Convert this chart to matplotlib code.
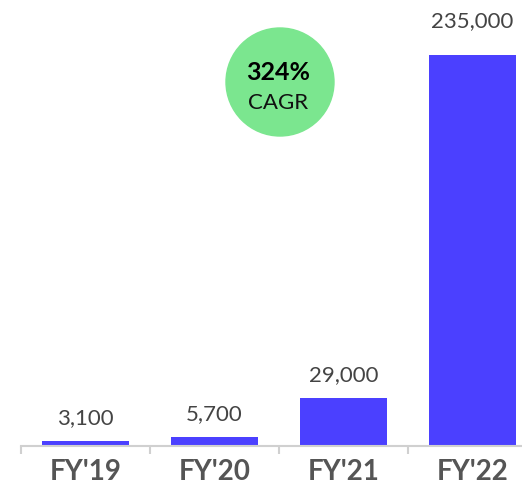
import matplotlib
matplotlib.use('Agg')
import matplotlib.pyplot as plt
from matplotlib.patches import Ellipse

years = ["FY'19", "FY'20", "FY'21", "FY'22"]
values = [3100, 5700, 29000, 235000]
labels = ['3,100', '5,700', '29,000', '235,000']
cagr = '324%'

W, H = 522, 484
fig = plt.figure(figsize=(W / 100, H / 100), dpi=100)
plt.rcParams['font.family'] = ['Lato', 'DejaVu Sans']

# axes baseline at y=446px, tallest bar top at y=55px
ax = fig.add_axes([21 / W, (H - 446) / H, 516 / W, 391 / H])
x = range(len(years))
ax.bar(x, values, width=0.67, color='#4B40FF', zorder=2)
ax.set_xlim(-0.5, 3.5)
ax.set_ylim(0, 235000)

for xi, v, lab in zip(x, values, labels):
    off = 20 if v == max(values) else 12  # top label sits a bit higher
    ax.annotate(lab, (xi, v), xytext=(0, off), textcoords='offset points',
                ha='center', va='baseline', fontsize=16, color='#444444')

for s in ['top', 'right', 'left']:
    ax.spines[s].set_visible(False)
ax.spines['bottom'].set_color('#d0d0d0')
ax.spines['bottom'].set_linewidth(1.5)
ax.set_yticks([])
ax.set_xticks([-0.5, 0.5, 1.5, 2.5, 3.5])
ax.set_xticklabels([])
ax.tick_params(axis='x', length=6, width=1.5, color='#d0d0d0')
ax.set_xticks(list(x), minor=True)
ax.set_xticklabels(years, minor=True, fontsize=20, fontweight='bold', color='#555555')
ax.tick_params(axis='x', which='minor', length=0, pad=9)

# CAGR bubble
cx, cy, r = 280, 82, 54
fig.add_artist(Ellipse((cx / W, 1 - cy / H), 2 * r / W, 2 * r / H,
                       transform=fig.transFigure, color='#7BE68F', zorder=3))
fig.text(278 / W, 1 - 80 / H, cagr, ha='center', va='baseline', fontsize=18,
         fontweight='bold', color='black', zorder=4)
fig.text(278 / W, 1 - 109 / H, 'CAGR', ha='center', va='baseline', fontsize=16,
         color='#111111', zorder=4)

fig.savefig('out.png', dpi=100)
